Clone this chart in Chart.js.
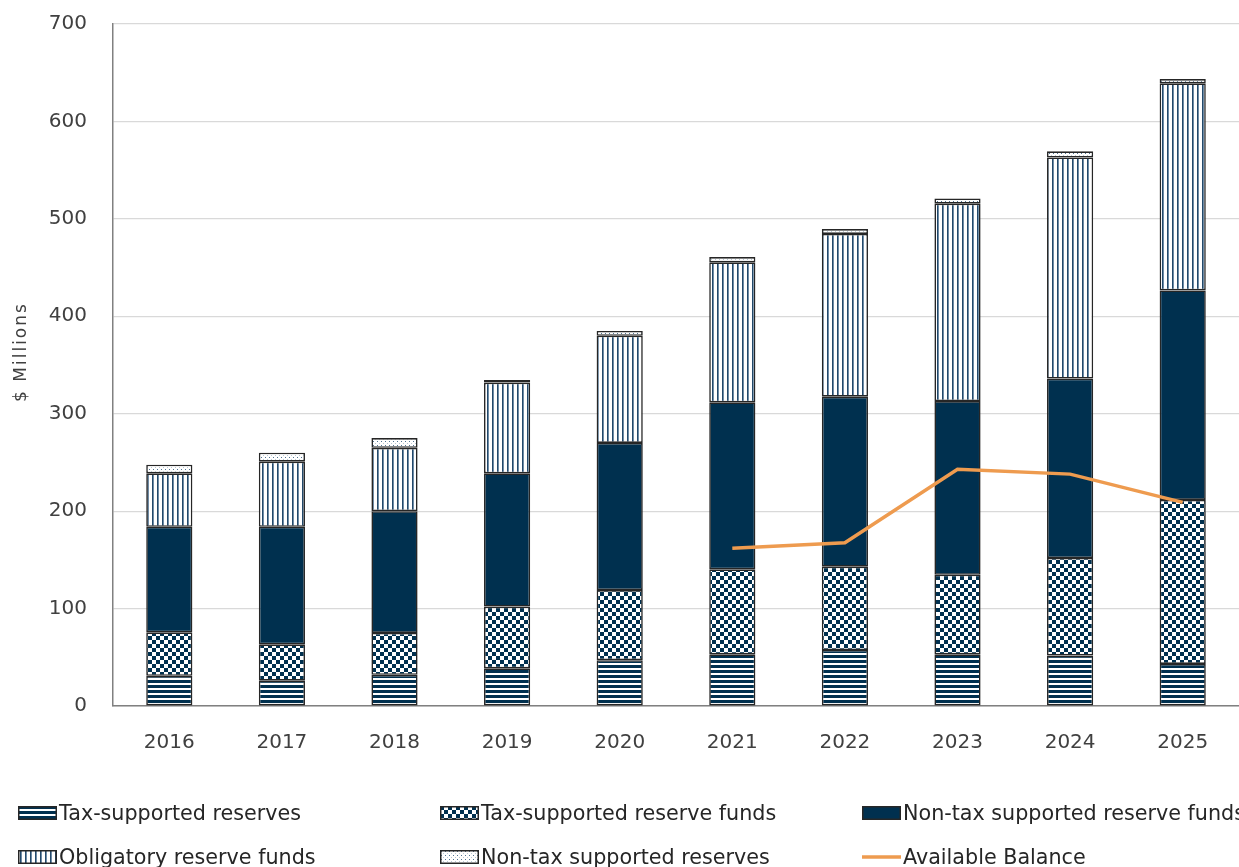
<!DOCTYPE html>
<html>
<head>
<meta charset="utf-8">
<script src="https://cdn.jsdelivr.net/npm/chart.js@4.4.1/dist/chart.umd.min.js"></script>
<style>
  html, body { margin:0; padding:0; background:#fff; overflow:hidden; }
  #wrap { position:relative; width:1239px; height:867px; }
  #c { position:absolute; left:0; top:0; }
  .lg { position:absolute; display:flex; align-items:center; height:24px;
        font-family:"DejaVu Sans", Verdana, sans-serif; font-size:20.7px; color:#262626; white-space:nowrap; }
  .lg canvas { display:block; margin-right:2px; }
</style>
</head>
<body>
<div id="wrap">
  <canvas id="c" width="1239" height="867"></canvas>
</div>
<script>
// ---- Data ----
const years = ['2016','2017','2018','2019','2020','2021','2022','2023','2024','2025'];
const taxReserves      = [31.0, 26.0, 32.0, 38.7, 47.0, 53.0, 57.5, 53.0, 51.8, 43.2];
const taxReserveFunds  = [44.6, 37.3, 43.0, 63.3, 72.0, 87.3, 85.5, 81.7, 100.1, 168.3];
const nonTaxFunds      = [108.4, 120.7, 125.0, 136.8, 151.0, 171.4, 174.5, 178.3, 184.2, 215.0];
const obligatoryFunds  = [54.8, 66.8, 65.0, 93.2, 110.0, 143.7, 167.0, 202.6, 226.9, 212.6];
const nonTaxReserves   = [8.9, 9.2, 10.0, 2.6, 5.0, 5.4, 5.0, 5.3, 6.3, 4.4];
const availableBalance = [null, null, null, null, null, 162.0, 167.5, 243.0, 238.0, 209.0];
const seriesNames = ['Tax-supported reserves','Tax-supported reserve funds','Non-tax supported reserve funds',
                     'Obligatory reserve funds','Non-tax supported reserves','Available Balance'];
const yTitle = '$ Millions';

const NAVY = '#00304f';
const ORANGE = '#ee9b4f';

function tile(w, h, draw) {
  const c = document.createElement('canvas');
  c.width = w; c.height = h;
  const x = c.getContext('2d');
  x.fillStyle = '#ffffff'; x.fillRect(0, 0, w, h);
  draw(x);
  return c;
}
const tiles = {
  hstripe: tile(8, 5, x => { x.fillStyle = NAVY; x.fillRect(0, 0, 8, 3); }),
  checker: tile(8, 8, x => { x.fillStyle = NAVY; x.fillRect(0, 0, 4, 4); x.fillRect(4, 4, 4, 4); }),
  vstripe: tile(5, 4, x => { x.fillStyle = '#23496b'; x.fillRect(2, 0, 1, 4); x.fillStyle = '#6f8ca6'; x.fillRect(3, 0, 1, 4); }),
  dots:    tile(4, 4, x => { x.fillStyle = '#4f7391'; x.fillRect(1, 1, 1, 1); x.fillStyle = '#b9c8d4'; x.fillRect(3, 3, 1, 1); })
};

const canvas = document.getElementById('c');
const ctx = canvas.getContext('2d');
const pat = k => ctx.createPattern(tiles[k], 'repeat');
const fills = [pat('hstripe'), pat('checker'), NAVY, pat('vstripe'), pat('dots')];
const barData = [taxReserves, taxReserveFunds, nonTaxFunds, obligatoryFunds, nonTaxReserves];

const datasets = barData.map((d, i) => ({
  type: 'bar',
  label: seriesNames[i],
  data: d,
  backgroundColor: fills[i],
  borderColor: '#262626',
  borderWidth: 1.6,
  borderSkipped: false,
  stack: 'bars',
  order: 1,
  barPercentage: 0.41,
  categoryPercentage: 1.0
}));
datasets.push({
  type: 'line',
  label: seriesNames[5],
  data: availableBalance,
  borderColor: ORANGE,
  borderWidth: 3.5,
  pointRadius: 0,
  fill: false,
  tension: 0,
  stack: 'line',
  order: 0
});

// y-axis title drawn with letter spacing to match the reference's wide setting
const yTitlePlugin = {
  id: 'yTitle',
  afterDraw(chart) {
    const c = chart.ctx, a = chart.chartArea;
    c.save();
    c.translate(22, (a.top + a.bottom) / 2 - 13);
    c.rotate(-Math.PI / 2);
    c.font = '17px "DejaVu Sans"';
    c.letterSpacing = '2px';
    c.fillStyle = '#404040';
    c.textAlign = 'center';
    c.textBaseline = 'middle';
    c.fillText(yTitle, 0, 0);
    c.restore();
  }
};

const tickFont = { family: 'DejaVu Sans', size: 20 };
new Chart(ctx, {
  type: 'bar',
  data: { labels: years, datasets },
  plugins: [yTitlePlugin],
  options: {
    responsive: false,
    animation: false,
    devicePixelRatio: 1,
    layout: { padding: { top: 24, right: 0, bottom: 95, left: 0 } },
    plugins: { legend: { display: false }, tooltip: { enabled: false } },
    scales: {
      x: {
        stacked: true,
        grid: { display: false },
        border: { display: true, color: '#808080', width: 1.5 },
        ticks: { font: tickFont, color: '#404040', padding: 17 }
      },
      y: {
        stacked: true,
        min: 0, max: 700,
        ticks: { stepSize: 100, font: tickFont, color: '#404040', padding: 26 },
        grid: { color: '#d9d9d9', lineWidth: 1.2, drawTicks: false },
        border: { display: true, color: '#808080', width: 1.5 },
        afterFit(s) { s.width = 113; s.paddingTop = 0; s.paddingBottom = 0; }
      }
    }
  }
});

// ---- Legend (HTML, 3 columns) ----
const wrap = document.getElementById('wrap');
const legendPos = [[18, 801], [440, 801], [862, 801], [18, 845], [440, 845], [862, 845]];
const tileKeys = ['hstripe', 'checker', null, 'vstripe', 'dots'];
seriesNames.forEach((name, si) => {
  const item = document.createElement('div');
  item.className = 'lg';
  item.style.left = legendPos[si][0] + 'px';
  item.style.top = legendPos[si][1] + 'px';
  const sw = document.createElement('canvas');
  sw.width = 39; sw.height = 14;
  const sx = sw.getContext('2d');
  if (si < 5) {
    sx.fillStyle = si === 2 ? NAVY : sx.createPattern(tiles[tileKeys[si]], 'repeat');
    sx.fillRect(0, 0, 39, 14);
    sx.strokeStyle = '#262626'; sx.lineWidth = 1.5; sx.strokeRect(0.75, 0.75, 37.5, 12.5);
  } else {
    sx.strokeStyle = ORANGE; sx.lineWidth = 3.5;
    sx.beginPath(); sx.moveTo(0, 7); sx.lineTo(39, 7); sx.stroke();
  }
  item.appendChild(sw);
  const t = document.createElement('span');
  t.textContent = name;
  item.appendChild(t);
  wrap.appendChild(item);
});
</script>
</body>
</html>
